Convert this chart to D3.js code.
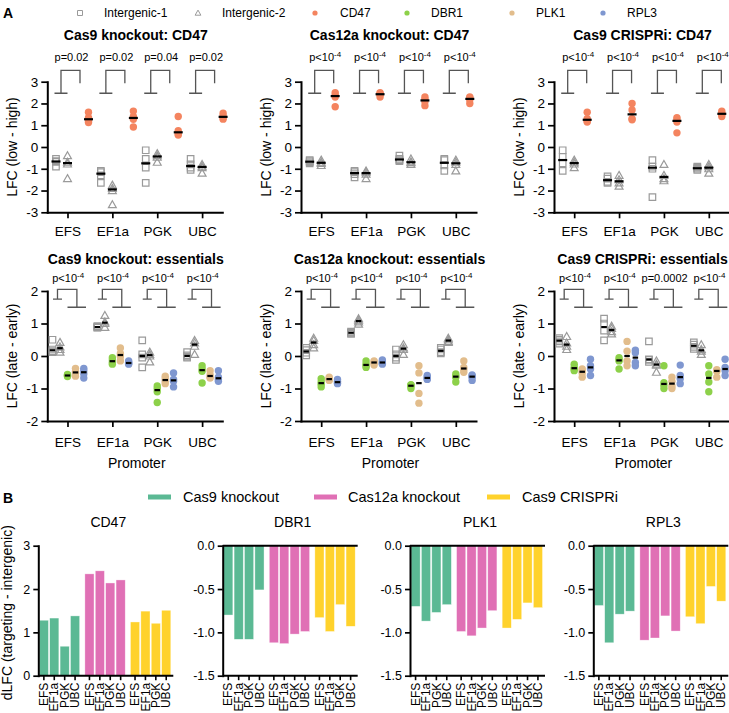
<!DOCTYPE html>
<html><head><meta charset="utf-8">
<script src="https://cdn.jsdelivr.net/npm/d3@7"></script>
<style>body{margin:0;background:#fff}svg{display:block}</style>
</head><body><svg id="c" width="729" height="713"></svg>
<script>
// ---------------- DATA ----------------
const promoters = ["EFS","EF1a","PGK","UBC"];
const legendSeries = ["Intergenic-1","Intergenic-2","CD47","DBR1","PLK1","RPL3"];
const systems = ["Cas9 knockout","Cas12a knockout","Cas9 CRISPRi"];

const cd47Titles = ["Cas9 knockout: CD47","Cas12a knockout: CD47","Cas9 CRISPRi: CD47"];
const essTitles = ["Cas9 knockout: essentials","Cas12a knockout: essentials","Cas9 CRISPRi: essentials"];
const cd47PValues = [["p=0.02","p=0.02","p=0.04","p=0.02"],["p<10^-4","p<10^-4","p<10^-4","p<10^-4"],["p<10^-4","p<10^-4","p<10^-4","p<10^-4"]];
const essPValues = [["p<10^-4","p<10^-4","p<10^-4","p<10^-4"],["p<10^-4","p<10^-4","p<10^-4","p<10^-4"],["p<10^-4","p<10^-4","p=0.0002","p<10^-4"]];
const cd47YTicks = [-3,-2,-1,0,1,2,3];
const essYTicks = [-2,-1,0,1,2];

// CD47 screens, LFC (low - high); rows = EFS, EF1a, PGK, UBC
const cas9KO_CD47_int1 = [[-0.55,-0.65,-0.68,-0.9],[-1.1,-1.15,-1.3,-1.65],[-0.15,-0.55,-0.95,-1.65],[-0.55,-0.8,-0.95,-1.05]];
const cas9KO_CD47_int2 = [[-0.4,-0.7,-0.78,-1.45],[-1.75,-1.9,-2.0,-2.65],[-0.3,-0.4,-0.47,-0.7],[-0.8,-0.88,-0.95,-1.2]];
const cas9KO_CD47_cd47 = [[1.6,1.35,1.2,1.12],[1.65,1.4,1.27,0.92],[1.4,0.75,0.6,0.55],[1.55,1.42,1.35,1.28]];
const cas12aKO_CD47_int1 = [[-0.6,-0.65,-0.7,-0.75],[-1.1,-1.15,-1.25,-1.4],[-0.4,-0.55,-0.6,-0.65],[-0.55,-0.6,-0.85,-1.1]];
const cas12aKO_CD47_int2 = [[-0.6,-0.7,-0.75,-0.85],[-1.1,-1.15,-1.25,-1.45],[-0.55,-0.68,-0.72,-0.8],[-0.6,-0.7,-0.8,-1.1]];
const cas12aKO_CD47_cd47 = [[2.5,2.38,2.3,1.85],[2.5,2.45,2.4,2.3],[2.3,2.2,2.08,1.9],[2.3,2.25,2.17,2.0]];
const cas9i_CD47_int1 = [[-0.15,-0.45,-0.75,-1.1],[-1.35,-1.45,-1.6,-1.65],[-0.6,-0.9,-1.0,-2.3],[-0.9,-0.95,-1.0,-1.05]];
const cas9i_CD47_int2 = [[-0.6,-0.7,-0.78,-0.95],[-1.3,-1.5,-1.65,-1.8],[-0.8,-1.3,-1.45,-1.55],[-0.8,-0.9,-1.0,-1.2]];
const cas9i_CD47_cd47 = [[1.6,1.3,1.2,1.15],[2.0,1.7,1.3,1.25],[1.35,1.25,1.15,0.65],[1.65,1.55,1.5,1.4]];

// Essential-gene screens, LFC (late - early)
const cas9KO_ess_int1 = [[0.5,0.2,0.15,0.12],[0.92,0.9,0.88,0.87],[0.48,0.05,-0.05,-0.35],[0.12,0.02,-0.02,-0.05]];
const cas9KO_ess_int2 = [[0.42,0.28,0.2,0.12],[1.25,1.05,1.0,0.88],[0.12,0.05,0.0,-0.18],[0.48,0.4,0.3,0.05]];
const cas9KO_ess_dbr1 = [[-0.57,-0.6,-0.6,-0.63],[-0.05,-0.12,-0.2,-0.25],[-0.92,-1.0,-1.1,-1.43],[-0.3,-0.4,-0.47,-0.83]];
const cas9KO_ess_plk1 = [[-0.38,-0.48,-0.53,-0.62],[0.25,0.08,-0.02,-0.15],[-0.62,-0.7,-0.78,-0.85],[-0.45,-0.58,-0.65,-0.68]];
const cas9KO_ess_rpl3 = [[-0.38,-0.45,-0.55,-0.68],[-0.15,-0.2,-0.23,-0.25],[-0.52,-0.72,-0.78,-0.95],[-0.45,-0.65,-0.72,-0.78]];
const cas12aKO_ess_int1 = [[0.25,0.18,0.1,0.02],[0.75,0.72,0.71,0.68],[0.2,0.05,-0.05,-0.12],[0.25,0.2,0.12,0.08]];
const cas12aKO_ess_int2 = [[0.55,0.48,0.35,0.25],[1.15,1.1,1.05,0.98],[0.35,0.25,0.2,0.05],[0.55,0.5,0.45,0.42]];
const cas12aKO_ess_dbr1 = [[-0.7,-0.8,-0.87,-0.95],[-0.15,-0.25,-0.3,-0.35],[-0.88,-0.9,-0.93,-1.0],[-0.55,-0.62,-0.65,-0.8]];
const cas12aKO_ess_plk1 = [[-0.65,-0.7,-0.72,-0.75],[-0.15,-0.18,-0.22,-0.28],[-0.3,-0.52,-1.15,-1.45],[-0.15,-0.35,-0.42,-0.5]];
const cas12aKO_ess_rpl3 = [[-0.72,-0.78,-0.83,-0.85],[-0.12,-0.18,-0.22,-0.25],[-0.6,-0.65,-0.7,-0.72],[-0.58,-0.62,-0.65,-0.75]];
const cas9i_ess_int1 = [[0.55,0.5,0.45,0.38],[1.15,1.0,0.78,0.48],[0.45,-0.1,-0.12,-0.18],[0.42,0.35,0.28,0.22]];
const cas9i_ess_int2 = [[0.6,0.4,0.3,0.2],[0.92,0.85,0.75,0.68],[-0.15,-0.25,-0.28,-0.5],[0.35,0.2,0.15,0.05]];
const cas9i_ess_dbr1 = [[-0.25,-0.35,-0.4,-0.45],[-0.05,-0.12,-0.15,-0.4],[-0.3,-0.82,-0.9,-1.0],[-0.3,-0.55,-0.8,-1.1]];
const cas9i_ess_plk1 = [[-0.4,-0.45,-0.52,-0.65],[0.45,0.15,-0.15,-0.3],[-0.65,-0.78,-0.92,-1.0],[-0.42,-0.45,-0.47,-0.65]];
const cas9i_ess_rpl3 = [[-0.1,-0.3,-0.4,-0.6],[0.18,0.1,-0.2,-0.3],[-0.28,-0.6,-0.7,-0.85],[-0.1,-0.35,-0.45,-0.6]];

// Panel B: dLFC (targeting - intergenic), order EFS, EF1a, PGK, UBC
const barGenes = ["CD47","DBR1","PLK1","RPL3"];
const dLFC_CD47_cas9KO = [1.28,1.33,0.68,1.38];
const dLFC_CD47_cas12aKO = [2.35,2.42,2.14,2.21];
const dLFC_CD47_cas9i = [1.24,1.49,1.21,1.51];
const dLFC_DBR1_cas9KO = [-0.80,-1.08,-1.08,-0.51];
const dLFC_DBR1_cas12aKO = [-1.12,-1.13,-1.02,-0.99];
const dLFC_DBR1_cas9i = [-0.83,-0.99,-0.68,-0.93];
const dLFC_PLK1_cas9KO = [-0.70,-0.87,-0.77,-0.68];
const dLFC_PLK1_cas12aKO = [-0.99,-1.04,-0.95,-0.75];
const dLFC_PLK1_cas9i = [-0.95,-0.85,-0.66,-0.715];
const dLFC_RPL3_cas9KO = [-0.69,-1.12,-0.79,-0.755];
const dLFC_RPL3_cas12aKO = [-1.09,-1.065,-0.81,-0.985];
const dLFC_RPL3_cas9i = [-0.82,-0.90,-0.47,-0.64];

// ---------------- STYLE ----------------
const FONT = "'Liberation Sans', Arial, Helvetica, sans-serif";
const seriesColor = {"CD47":"#F4845F","DBR1":"#8DD14A","PLK1":"#E2BD8C","RPL3":"#7F97D0","Intergenic-1":"#9a9a9a","Intergenic-2":"#9a9a9a"};
const systemColor = {"Cas9 knockout":"#5BB994","Cas12a knockout":"#E070B5","Cas9 CRISPRi":"#FFD22C"};
const GRAY = "#9a9a9a";

const svg = d3.select("#c").style("font-family", FONT);

function markerPath(kind, s) {
  if (kind === "square") { const h = s/2; return `M${-h},${-h}H${h}V${h}H${-h}Z`; }
  const h = s/2; return `M0,${-h*1.05}L${h*1.05},${h*0.8}L${-h*1.05},${h*0.8}Z`;
}
function pText(sel, str) {
  if (str.includes("^")) {
    const [base, sup] = str.split("^");
    sel.append("tspan").text(base);
    sel.append("tspan").attr("dy", -4.5).attr("font-size", 8).text(sup);
  } else sel.text(str);
}
function styleAxis(g, w) {
  g.select(".domain").attr("stroke", "#000").attr("stroke-width", w).attr("stroke-linecap","square");
  g.selectAll(".tick line").attr("stroke", "#000").attr("stroke-width", w*0.85);
}

// ---------------- LEGEND A ----------------
svg.append("text").attr("x", 3).attr("y", 18).attr("font-weight", "bold").attr("font-size", 14).text("A");
const legAMarkX = [80, 198, 315, 407, 512, 603];
const legATextX = [104, 222, 340, 431, 536, 627];
legendSeries.forEach((s, i) => {
  const g = svg.append("g").attr("transform", `translate(${legAMarkX[i]},13)`);
  if (i === 0) g.append("path").attr("d", markerPath("square", 5)).attr("fill","none").attr("stroke",GRAY).attr("stroke-width",1);
  else if (i === 1) g.append("path").attr("d", markerPath("tri", 5.5)).attr("fill","none").attr("stroke",GRAY).attr("stroke-width",1);
  else g.append("circle").attr("r", 2.6).attr("fill", seriesColor[s]);
  svg.append("text").attr("x", legATextX[i]).attr("y", 17).attr("font-size", 12).text(s);
});

// ---------------- SCATTER PANELS ----------------
const panelX = [47.3, 301, 554];
const panelW = 175;

function scatterPanel(cfg) {
  const g = svg.append("g");
  const x = d3.scalePoint().domain(promoters).range([cfg.x0, cfg.x0 + panelW]).padding(0.45);
  const y = d3.scaleLinear().domain(cfg.yDomain).range([cfg.yBottom, cfg.yTop]);
  // axes
  const ya = g.append("g").attr("transform", `translate(${cfg.x0},0)`)
    .call(d3.axisLeft(y).tickValues(cfg.yTicks).tickFormat(d => String(d)).tickSize(6).tickSizeOuter(0).tickPadding(3));
  ya.selectAll("text").attr("font-size", 13.5).attr("font-family", FONT).attr("fill","#000");
  styleAxis(ya, 2);
  const xa = g.append("g").attr("transform", `translate(0,${cfg.yBottom})`)
    .call(d3.axisBottom(x).tickSize(6).tickSizeOuter(0).tickPadding(cfg.xPad));
  xa.selectAll("text").attr("font-size", 13.5).attr("font-family", FONT).attr("fill","#000");
  styleAxis(xa, 2);
  // title
  g.append("text").attr("x", cfg.x0 + panelW/2 + 1).attr("y", cfg.titleY).attr("text-anchor","middle")
    .attr("font-weight","bold").attr("font-size", 14).text(cfg.title);
  // y label
  g.append("text").attr("transform", `translate(${cfg.x0 - 30},${(cfg.yTop + cfg.yBottom)/2}) rotate(-90)`)
    .attr("text-anchor","middle").attr("font-size", 14).text(cfg.yLabel);
  if (cfg.xLabel) g.append("text").attr("x", cfg.x0 + panelW/2 + 2).attr("y", cfg.yBottom + 47)
    .attr("text-anchor","middle").attr("font-size", 14).text(cfg.xLabel);
  // brackets & p values
  const br = cfg.bracket;
  promoters.forEach((p, i) => {
    const cx = x(p);
    const path = d3.path();
    path.moveTo(cx + br.lb0, y(br.lBase)); path.lineTo(cx + br.lb1, y(br.lBase));
    path.moveTo(cx + br.lv, y(br.lBase)); path.lineTo(cx + br.lv, y(br.top));
    path.lineTo(cx + br.rv, y(br.top)); path.lineTo(cx + br.rv, y(br.rBase));
    if (br.rb0 !== undefined) { path.moveTo(cx + br.rb0, y(br.rBase)); path.lineTo(cx + br.rb1, y(br.rBase)); }
    g.append("path").attr("d", path.toString()).attr("fill","none").attr("stroke","#555").attr("stroke-width",1.3);
    const t = g.append("text").attr("x", cx + (br.lv + br.rv)/2 + 1).attr("y", cfg.pY)
      .attr("text-anchor","middle").attr("font-size", 11);
    pText(t, cfg.pvals[i]);
  });
  // points
  cfg.series.forEach(s => {
    promoters.forEach((p, i) => {
      const cx = x(p) + s.offset;
      const vals = s.values[i];
      vals.forEach(v => {
        if (s.kind === "square" || s.kind === "tri") {
          g.append("path").attr("transform", `translate(${cx},${y(v)})`)
            .attr("d", markerPath(s.kind, s.kind === "square" ? 6.5 : 7.5))
            .attr("fill","none").attr("stroke", GRAY).attr("stroke-width", 1.2);
        } else {
          g.append("circle").attr("cx", cx).attr("cy", y(v)).attr("r", 3.7).attr("fill", seriesColor[s.name]);
        }
      });
      const m = d3.median(vals);
      g.append("line").attr("x1", cx - cfg.medW/2).attr("x2", cx + cfg.medW/2)
        .attr("y1", y(m)).attr("y2", y(m)).attr("stroke","#000").attr("stroke-width", 2.2);
    });
  });
}

const cd47Sets = [
  [cas9KO_CD47_int1, cas9KO_CD47_int2, cas9KO_CD47_cd47],
  [cas12aKO_CD47_int1, cas12aKO_CD47_int2, cas12aKO_CD47_cd47],
  [cas9i_CD47_int1, cas9i_CD47_int2, cas9i_CD47_cd47]
];
const essSets = [
  [cas9KO_ess_int1, cas9KO_ess_int2, cas9KO_ess_dbr1, cas9KO_ess_plk1, cas9KO_ess_rpl3],
  [cas12aKO_ess_int1, cas12aKO_ess_int2, cas12aKO_ess_dbr1, cas12aKO_ess_plk1, cas12aKO_ess_rpl3],
  [cas9i_ess_int1, cas9i_ess_int2, cas9i_ess_dbr1, cas9i_ess_plk1, cas9i_ess_rpl3]
];
const cd47TargetOffset = [21, 14, 13];

for (let k = 0; k < 3; k++) {
  scatterPanel({
    x0: panelX[k], yTop: 81.7, yBottom: 212.3, yDomain: [-3, 3], yTicks: cd47YTicks,
    title: cd47Titles[k], titleY: 40, pY: 61, pvals: cd47PValues[k], medW: 9, xPad: 8,
    yLabel: "LFC (low - high)",
    bracket: {lb0: -13, lb1: 0, lv: -6.5, top: 3.52, rv: 12.5, lBase: 2.47, rBase: 2.93},
    series: [
      {name: "Intergenic-1", kind: "square", offset: -11.5, values: cd47Sets[k][0]},
      {name: "Intergenic-2", kind: "tri", offset: 0, values: cd47Sets[k][1]},
      {name: "CD47", kind: "dot", offset: cd47TargetOffset[k], values: cd47Sets[k][2]}
    ]
  });
  scatterPanel({
    x0: panelX[k], yTop: 291, yBottom: 421, yDomain: [-2, 2], yTicks: essYTicks,
    title: essTitles[k], titleY: 264, pY: 282, pvals: essPValues[k], medW: 5.5, xPad: 10,
    yLabel: "LFC (late - early)", xLabel: "Promoter",
    bracket: {lb0: -14.5, lb1: -5.5, lv: -10, top: 2.05, rv: 9.4, lBase: 1.75, rBase: 1.5, rb0: 0, rb1: 18.5},
    series: [
      {name: "Intergenic-1", kind: "square", offset: -15, values: essSets[k][0]},
      {name: "Intergenic-2", kind: "tri", offset: -7.5, values: essSets[k][1]},
      {name: "DBR1", kind: "dot", offset: 0, values: essSets[k][2]},
      {name: "PLK1", kind: "dot", offset: 8, values: essSets[k][3]},
      {name: "RPL3", kind: "dot", offset: 16.3, values: essSets[k][4]}
    ]
  });
}

// ---------------- PANEL B ----------------
svg.append("text").attr("x", 3).attr("y", 503).attr("font-weight", "bold").attr("font-size", 14).text("B");
const legBLineX = [148, 314, 487];
const legBTextX = [183, 348, 522];
systems.forEach((s, i) => {
  svg.append("line").attr("x1", legBLineX[i]).attr("x2", legBLineX[i] + 23).attr("y1", 497).attr("y2", 497)
    .attr("stroke", systemColor[s]).attr("stroke-width", 5);
  svg.append("text").attr("x", legBTextX[i]).attr("y", 502).attr("font-size", 14.5).text(s);
});

const barSets = {
  "CD47": [dLFC_CD47_cas9KO, dLFC_CD47_cas12aKO, dLFC_CD47_cas9i],
  "DBR1": [dLFC_DBR1_cas9KO, dLFC_DBR1_cas12aKO, dLFC_DBR1_cas9i],
  "PLK1": [dLFC_PLK1_cas9KO, dLFC_PLK1_cas12aKO, dLFC_PLK1_cas9i],
  "RPL3": [dLFC_RPL3_cas9KO, dLFC_RPL3_cas12aKO, dLFC_RPL3_cas9i]
};
const barX0 = [38.3, 222.7, 410, 593.3];
const barW = 135, barTop = 545.7, barBottom = 675.7;

barGenes.forEach((gene, gi) => {
  const g = svg.append("g");
  const x0 = barX0[gi];
  const pos = gene === "CD47";
  const y = d3.scaleLinear().domain(pos ? [0, 3] : [-1.5, 0]).range([barBottom, barTop]);
  const xg = d3.scaleBand().domain(systems).range([x0 + 1, x0 + 132.5]).paddingInner(0.115).paddingOuter(0);
  const xp = d3.scaleBand().domain(promoters).range([0, xg.bandwidth()]).paddingInner(0.12).paddingOuter(0);
  const bars = [];
  systems.forEach((s, si) => promoters.forEach((p, pi) => bars.push({s, p, v: barSets[gene][si][pi]})));
  // bars
  g.selectAll("rect.bar").data(bars).join("rect")
    .attr("x", d => xg(d.s) + xp(d.p)).attr("width", xp.bandwidth())
    .attr("y", d => Math.min(y(d.v), y(0))).attr("height", d => Math.abs(y(d.v) - y(0)))
    .attr("fill", d => systemColor[d.s]).attr("stroke", "#fff").attr("stroke-opacity", 0.6).attr("stroke-width", 0.6);
  // y axis
  const ya = g.append("g").attr("transform", `translate(${x0},0)`)
    .call(d3.axisLeft(y).tickValues(pos ? [0,1,2,3] : [0,-0.5,-1,-1.5])
      .tickFormat(d => pos ? String(d) : d.toFixed(1)).tickSize(5).tickSizeOuter(0).tickPadding(3));
  ya.selectAll("text").attr("font-size", 12.5).attr("font-family", FONT).attr("fill","#000");
  styleAxis(ya, 2);
  // bottom axis with bar ticks
  const xa = g.append("g").attr("transform", `translate(0,${barBottom})`);
  xa.append("line").attr("x1", x0).attr("x2", x0 + barW).attr("y1", 0).attr("y2", 0).attr("stroke","#000").attr("stroke-width",2);
  bars.forEach(d => {
    const cx = xg(d.s) + xp(d.p) + xp.bandwidth()/2;
    xa.append("line").attr("x1", cx).attr("x2", cx).attr("y1", 0).attr("y2", 4.5).attr("stroke","#000").attr("stroke-width",1.6);
    xa.append("text").attr("transform", `translate(${cx + 4.2},${7}) rotate(-90)`)
      .attr("text-anchor","end").attr("font-size", 12).text(d.p);
  });
  if (!pos) g.append("line").attr("x1", x0).attr("x2", x0 + barW).attr("y1", y(0)).attr("y2", y(0)).attr("stroke","#000").attr("stroke-width",2);
  // title
  g.append("text").attr("x", x0 + 70).attr("y", 527).attr("text-anchor","middle").attr("font-size", 14).text(gene);
});
svg.append("text").attr("transform", `translate(12,${(barTop + barBottom)/2 + 2}) rotate(-90)`)
  .attr("text-anchor","middle").attr("font-size", 14).text("dLFC (targeting - intergenic)");
</script></body></html>
